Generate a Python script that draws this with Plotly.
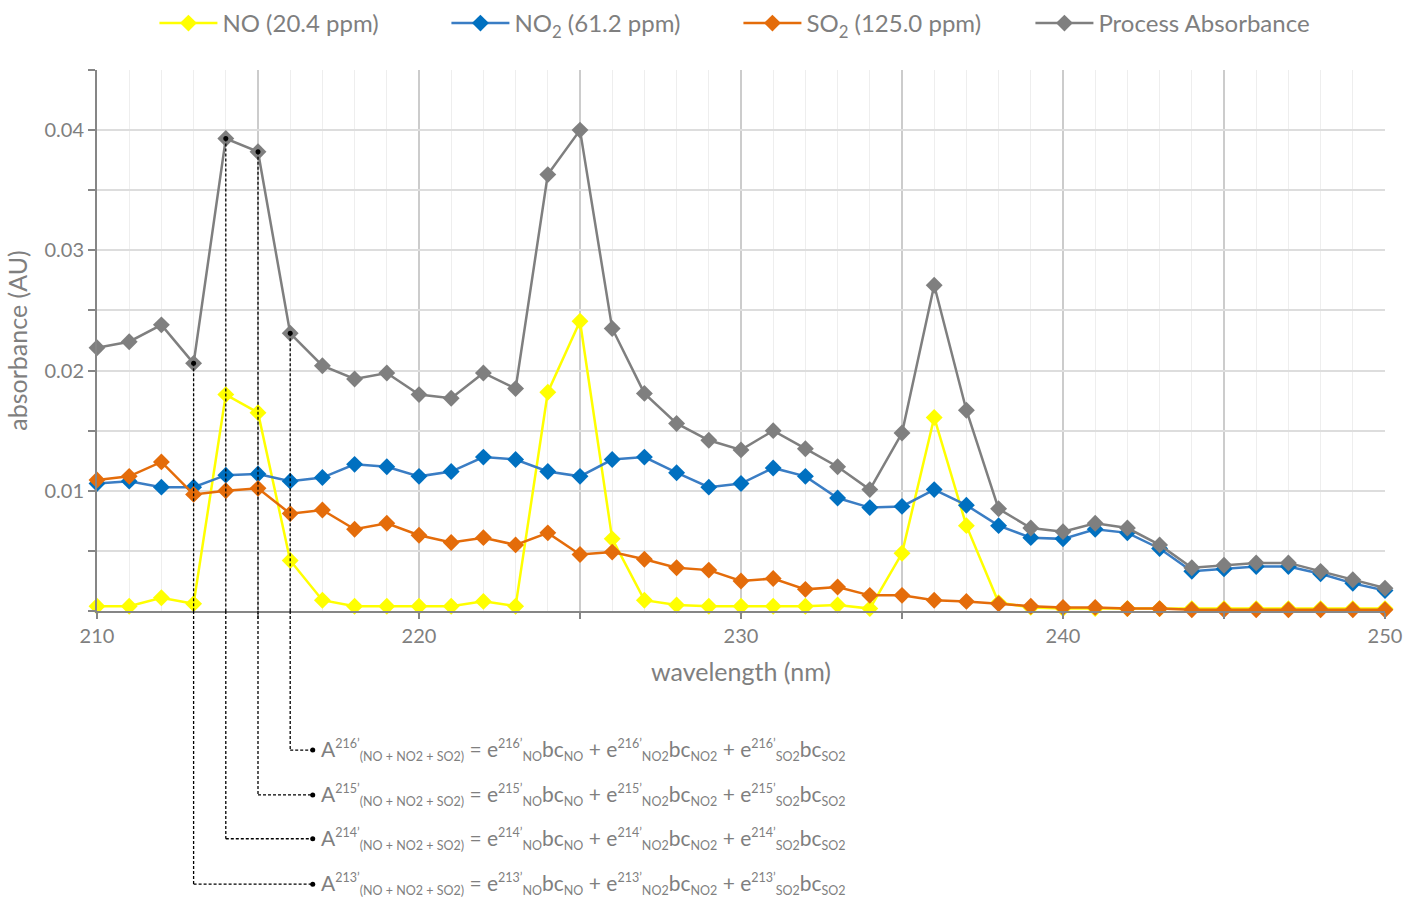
import plotly.graph_objects as go

# data (1 nm steps)
wavelength = list(range(210, 251))

no_abs = [0.0004, 0.0004, 0.0011, 0.0006, 0.0180, 0.0165, 0.0042, 0.0009, 0.0004, 0.0004,
          0.0004, 0.0004, 0.0008, 0.0004, 0.0182, 0.0241, 0.0060, 0.0009, 0.0005, 0.0004,
          0.0004, 0.0004, 0.0004, 0.0005, 0.0002, 0.0048, 0.0161, 0.0071, 0.0007, 0.0003,
          0.0002, 0.0002, 0.0002, 0.0002, 0.0002, 0.0002, 0.0002, 0.0002, 0.0002, 0.0002,
          0.0002]

no2_abs = [0.0106, 0.0108, 0.0103, 0.0103, 0.0113, 0.0114, 0.0108, 0.0111, 0.0122, 0.0120,
           0.0112, 0.0116, 0.0128, 0.0126, 0.0116, 0.0112, 0.0126, 0.0128, 0.0115, 0.0103,
           0.0106, 0.0119, 0.0112, 0.0094, 0.0086, 0.0087, 0.0101, 0.0088, 0.0071, 0.0061,
           0.0060, 0.0068, 0.0065, 0.0052, 0.0033, 0.0035, 0.0037, 0.0037, 0.0031, 0.0023,
           0.0017]

so2_abs = [0.0109, 0.0112, 0.0124, 0.0097, 0.0100, 0.0102, 0.0081, 0.0084, 0.0068, 0.0073,
           0.0063, 0.0057, 0.0061, 0.0055, 0.0065, 0.0047, 0.0049, 0.0043, 0.0036, 0.0034,
           0.0025, 0.0027, 0.0018, 0.0020, 0.0013, 0.0013, 0.0009, 0.0008, 0.0006, 0.0004,
           0.0003, 0.0003, 0.0002, 0.0002, 0.0001, 0.0001, 0.0001, 0.0001, 0.0001, 0.0001,
           0.0001]

process_abs = [0.0219, 0.0224, 0.0238, 0.0206, 0.0393, 0.0382, 0.0231, 0.0204, 0.0193, 0.0198,
               0.0180, 0.0177, 0.0198, 0.0185, 0.0363, 0.0400, 0.0235, 0.0181, 0.0156, 0.0142,
               0.0134, 0.0150, 0.0135, 0.0120, 0.0101, 0.0148, 0.0271, 0.0167, 0.0085, 0.0069,
               0.0066, 0.0073, 0.0069, 0.0055, 0.0036, 0.0038, 0.0040, 0.0040, 0.0033, 0.0026,
               0.0019]

series_names = ["NO (20.4 ppm)", "NO<sub>2</sub> (61.2 ppm)",
                "SO<sub>2</sub> (125.0 ppm)", "Process Absorbance"]

x_tickvals = [210, 215, 220, 225, 230, 235, 240, 245, 250]
x_ticktext = ["210", "", "220", "", "230", "", "240", "", "250"]
y_tickvals = [0, 0.005, 0.01, 0.015, 0.02, 0.025, 0.03, 0.035, 0.04, 0.045]
y_ticktext = ["", "", "0.01", "", "0.02", "", "0.03", "", "0.04", ""]

# wavelengths picked out for the equations, top row first
eq_wavelengths = [216, 215, 214, 213]

FONT = "Lato"
GREY_TXT = "#7f7f7f"

# row positions of the equations below the plot (paper units)
eq_rows = [-0.257, -0.340, -0.421, -0.505]
eq_line_end = 216.7

series = [
    (no_abs, "#ffff00", "#ffff00"),
    (no2_abs, "#3a7dc4", "#0070c0"),
    (so2_abs, "#e46c0a", "#e46c0a"),
    (process_abs, "#7f7f7f", "#7f7f7f"),
]

fig = go.Figure()
for (vals, lc, mc), name in zip(series, series_names):
    fig.add_trace(go.Scatter(x=wavelength, y=vals, name=name, mode="lines+markers",
                             line=dict(color=lc, width=2.5),
                             marker=dict(symbol="diamond", size=13, color=mc),
                             cliponaxis=False))

# small black dots on the process points used in the equations
sel = [wavelength.index(w) for w in eq_wavelengths]
fig.add_trace(go.Scatter(x=[wavelength[i] for i in sel], y=[process_abs[i] for i in sel],
                         mode="markers", marker=dict(color="black", size=5),
                         showlegend=False, hoverinfo="skip"))


def small(t):
    return f'<span style="font-size:12.5px">{t}</span>'


def equation(w):
    p = small(f"{w}’")
    return (f"A<sup>{p}</sup><sub>{small('(NO + NO2 + SO2)')}</sub> = "
            f"e<sup>{p}</sup><sub>{small('NO')}</sub>bc<sub>{small('NO')}</sub>"
            f" + e<sup>{p}</sup><sub>{small('NO2')}</sub>bc<sub>{small('NO2')}</sub>"
            f" + e<sup>{p}</sup><sub>{small('SO2')}</sub>bc<sub>{small('SO2')}</sub>")


dash_line = dict(color="black", width=1.3, dash="3px,2px")
for i, w, row in zip(sel, eq_wavelengths, eq_rows):
    # inside the plot: from the point down to the axis
    fig.add_shape(type="line", xref="x", yref="y", x0=w, x1=w, y0=process_abs[i], y1=0,
                  line=dash_line, layer="above")
    # below the plot: down to the equation row and across
    fig.add_shape(type="line", xref="x", yref="paper", x0=w, x1=w, y0=0, y1=row,
                  line=dash_line, layer="above")
    fig.add_shape(type="line", xref="x", yref="paper", x0=w, x1=eq_line_end, y0=row, y1=row,
                  line=dash_line, layer="above")
    fig.add_shape(type="circle", xref="x", yref="paper", xsizemode="pixel", ysizemode="pixel",
                  xanchor=eq_line_end, yanchor=row, x0=-2.5, x1=2.5, y0=-2.5, y1=2.5,
                  fillcolor="black", line=dict(width=0), layer="above")
    fig.add_annotation(text=equation(w), xref="x", yref="paper", x=eq_line_end, y=row,
                       xanchor="left", yanchor="middle", xshift=6, showarrow=False,
                       font=dict(family=FONT, size=21, color=GREY_TXT))

fig.update_layout(
    width=1403, height=904,
    margin=dict(l=97, r=18, t=70, b=293, autoexpand=False),
    paper_bgcolor="white", plot_bgcolor="white",
    font=dict(family=FONT, color=GREY_TXT),
    legend=dict(orientation="h", x=0.498, xanchor="center", y=0.974, yref="container",
                yanchor="middle", font=dict(size=24, color=GREY_TXT, family=FONT),
                itemwidth=58, entrywidth=219),
    xaxis=dict(range=[210, 250], tickmode="array", tickvals=x_tickvals, ticktext=x_ticktext,
               showgrid=True, gridcolor="#cccccc", gridwidth=1.5,
               minor=dict(dtick=1, tick0=210, showgrid=True, gridcolor="#eeeeee", gridwidth=1),
               showline=True, linecolor="#868686", linewidth=2,
               ticks="outside", ticklen=6, tickcolor="#868686", tickwidth=1.5,
               tickfont=dict(size=20, color=GREY_TXT), zeroline=False, automargin=False,
               title=dict(text="wavelength (nm)", font=dict(size=25, color=GREY_TXT), standoff=17)),
    yaxis=dict(range=[0, 0.045], tickmode="array", tickvals=y_tickvals, ticktext=y_ticktext,
               showgrid=True, gridcolor="#dddddd", gridwidth=2,
               showline=True, linecolor="#868686", linewidth=2,
               ticks="outside", ticklen=7, tickcolor="#868686", tickwidth=1.5,
               tickfont=dict(size=20, color=GREY_TXT), zeroline=False, automargin=False,
               title=dict(text="absorbance (AU)", font=dict(size=25, color=GREY_TXT), standoff=10)),
)

# drop the default 8px page margin so the 1403x904 figure fills the window
fig.write_html("out.html", config={"displayModeBar": False},
               post_script="document.body.style.margin = '0';")
